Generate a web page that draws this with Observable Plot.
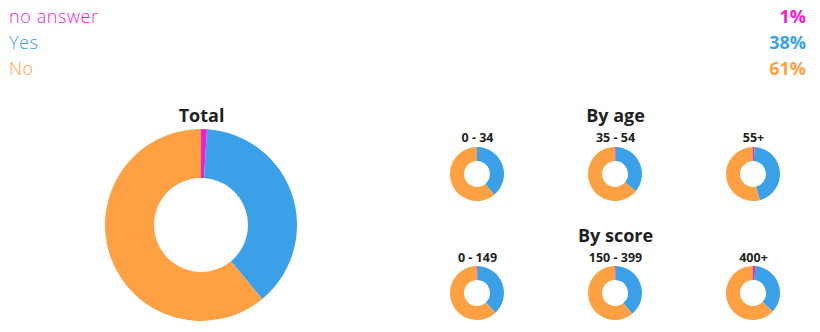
<!DOCTYPE html>
<html>
<head>
<meta charset="utf-8">
<script src="https://cdn.jsdelivr.net/npm/d3@7"></script>
<script src="https://cdn.jsdelivr.net/npm/@observablehq/plot@0.6"></script>
<style>
  html, body { margin: 0; padding: 0; background: #fff; }
  body { width: 820px; height: 332px; overflow: hidden; font-family: "Open Sans", sans-serif; }
  #legend { height: 90px; box-sizing: border-box; padding-top: 3px; }
  .row { display: flex; justify-content: space-between; height: 26px; line-height: 26px; padding: 0 14px 0 9px; font-size: 18px; }
  .row .lab { font-weight: 300; letter-spacing: 0.6px; }
  .row .pct { font-weight: 700; }
  #chart svg { display: block; }
</style>
</head>
<body>
<div id="legend"></div>
<div id="chart"></div>
<script>
// ---- data ----
const categories = ["no answer", "Yes", "No"];
const colors = ["#f91bd0", "#3aa1e9", "#ffa142"];
const totalValues = [1, 38, 61];
const totalLabels = ["1%", "38%", "61%"];
const sectionTitles = ["Total", "By age", "By score"];
const ageGroups = ["0 - 34", "35 - 54", "55+"];
const ageValues = [[0, 39, 61], [0.5, 35.5, 64], [1, 45, 54]];
const scoreGroups = ["0 - 149", "150 - 399", "400+"];
const scoreValues = [[0.5, 37.5, 62], [0.5, 38.5, 61], [1.5, 35.5, 63]];

// ---- legend (HTML) ----
const legend = d3.select("#legend");
categories.forEach((c, i) => {
  const row = legend.append("div").attr("class", "row").style("color", colors[i]);
  row.append("span").attr("class", "lab").text(c);
  row.append("span").attr("class", "pct").text(totalLabels[i]);
});

// ---- layout ----
const W = 820, H = 242;
const L = {
  total: {cx: 201, cy: 135, r: 96, ir: 47, title: 26},
  cols: [477, 615, 753],
  rows: [{title: 26, label: 47, cy: 84}, {title: 146, label: 167, cy: 203}],
  small: {r: 27, ir: 13}
};

const titleData = [
  {t: sectionTitles[0], x: L.total.cx, y: L.total.title},
  {t: sectionTitles[1], x: L.cols[1], y: L.rows[0].title},
  {t: sectionTitles[2], x: L.cols[1], y: L.rows[1].title}
];
const labelData = [
  ...ageGroups.map((g, i) => ({t: g, x: L.cols[i], y: L.rows[0].label})),
  ...scoreGroups.map((g, i) => ({t: g, x: L.cols[i], y: L.rows[1].label}))
];

const donutSpecs = [
  {vals: totalValues, cx: L.total.cx, cy: L.total.cy, r: L.total.r, ir: L.total.ir},
  ...ageValues.map((v, i) => ({vals: v, cx: L.cols[i], cy: L.rows[0].cy, r: L.small.r, ir: L.small.ir})),
  ...scoreValues.map((v, i) => ({vals: v, cx: L.cols[i], cy: L.rows[1].cy, r: L.small.r, ir: L.small.ir}))
];

function donuts(index, scales) {
  const x = scales.x, y = scales.y;
  const color = scales.color || d3.scaleOrdinal(categories, colors);
  const g = d3.create("svg:g");
  const pie = d3.pie().sort(null).value(d => d.value);
  for (const s of donutSpecs) {
    const arcs = pie(categories.map((c, i) => ({category: c, value: s.vals[i]})));
    const arc = d3.arc().innerRadius(s.ir).outerRadius(s.r);
    g.append("g")
      .attr("transform", `translate(${x(s.cx)},${y(s.cy)})`)
      .selectAll("path").data(arcs).join("path")
      .attr("d", arc)
      .attr("fill", d => color(d.data.category));
  }
  return g.node();
}

const chart = Plot.plot({
  width: W, height: H,
  marginTop: 0, marginRight: 0, marginBottom: 0, marginLeft: 0,
  style: {fontFamily: "'Open Sans', sans-serif", background: "#fff"},
  x: {domain: [0, W], range: [0, W], axis: null},
  y: {domain: [0, H], range: [0, H], axis: null},
  color: {domain: categories, range: colors},
  marks: [
    donuts,
    Plot.text(titleData, {x: "x", y: "y", text: "t", fontSize: 18, fontWeight: 700, fill: "#1f1f24"}),
    Plot.text(labelData, {x: "x", y: "y", text: "t", fontSize: 12.5, fontWeight: 700, fill: "#1f1f24"})
  ]
});
document.getElementById("chart").appendChild(chart);
</script>
</body>
</html>
